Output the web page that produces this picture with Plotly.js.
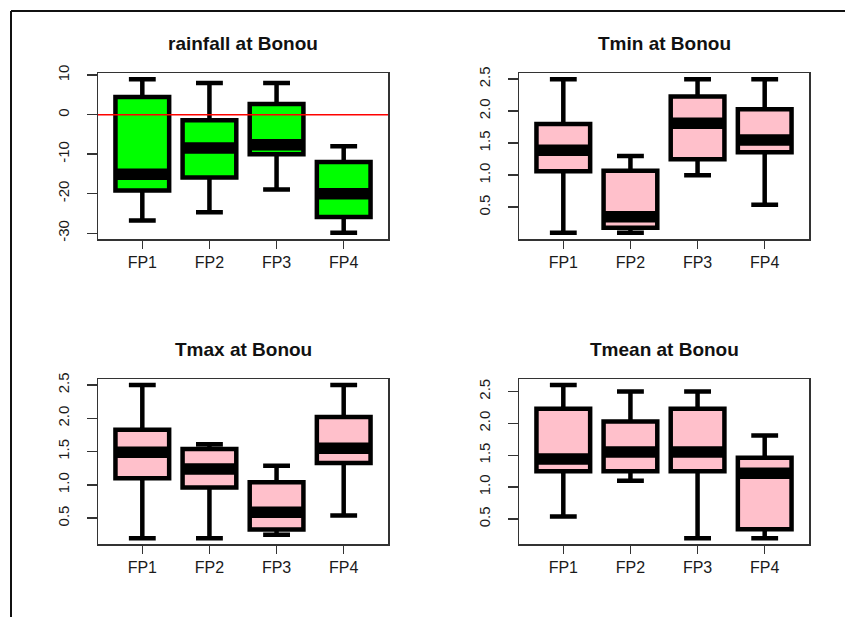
<!DOCTYPE html>
<html>
<head>
<meta charset="utf-8">
<script src="https://cdn.plot.ly/plotly-3.0.1.min.js"></script>
<style>
html,body{margin:0;padding:0;background:#fff;}
#chart{width:845px;height:617px;}
</style>
</head>
<body>
<div id="chart"></div>
<script>
// ---------- data ----------
const categories = ['FP1', 'FP2', 'FP3', 'FP4'];
const positions = [1, 2, 3, 4];
const panelTitles = ['rainfall at Bonou', 'Tmin at Bonou', 'Tmax at Bonou', 'Tmean at Bonou'];

const rainUpper  = [9, 8, 8, -8];
const rainQ3     = [4.5, -1.4, 2.7, -12];
const rainMedian = [-15.1, -8.4, -7.6, -20];
const rainQ1     = [-19.2, -15.9, -10, -25.9];
const rainLower  = [-26.8, -24.7, -18.9, -29.9];

const tminUpper  = [2.5, 1.3, 2.5, 2.5];
const tminQ3     = [1.80, 1.07, 2.23, 2.03];
const tminMedian = [1.39, 0.35, 1.81, 1.55];
const tminQ1     = [1.06, 0.18, 1.25, 1.36];
const tminLower  = [0.1, 0.1, 1.0, 0.54];

const tmaxUpper  = [2.5, 1.61, 1.29, 2.5];
const tmaxQ3     = [1.83, 1.54, 1.04, 2.02];
const tmaxMedian = [1.49, 1.24, 0.59, 1.55];
const tmaxQ1     = [1.10, 0.96, 0.33, 1.33];
const tmaxLower  = [0.2, 0.2, 0.25, 0.54];

const tmeanUpper  = [2.6, 2.5, 2.5, 1.81];
const tmeanQ3     = [2.23, 2.03, 2.23, 1.46];
const tmeanMedian = [1.44, 1.55, 1.55, 1.22];
const tmeanQ1     = [1.25, 1.25, 1.25, 0.34];
const tmeanLower  = [0.54, 1.10, 0.2, 0.2];

const rainTickVals = [-30, -20, -10, 0, 10];
const rainTickText = ['-30', '-20', '-10', '0', '10'];
const tempTickVals = [0.5, 1.0, 1.5, 2.0, 2.5];
const tempTickText = ['0.5', '1.0', '1.5', '2.0', '2.5'];

const rainReferenceLevel = 0;

// ---------- styling / layout ----------
const W = 845, H = 617;
const BOX_WIDTH = 0.8;
const GREEN = '#00ff00', PINK = '#ffc0cb';
const FONT = '"Liberation Sans", Arial, Helvetica, sans-serif';

const panels = [
  {title: panelTitles[0], lower: rainLower, q1: rainQ1, med: rainMedian, q3: rainQ3, upper: rainUpper, fill: GREEN, tv: rainTickVals, tt: rainTickText, xpx: [98, 388], ypx: [73, 239]},
  {title: panelTitles[1], lower: tminLower, q1: tminQ1, med: tminMedian, q3: tminQ3, upper: tminUpper, fill: PINK, tv: tempTickVals, tt: tempTickText, xpx: [519, 809], ypx: [73, 239]},
  {title: panelTitles[2], lower: tmaxLower, q1: tmaxQ1, med: tmaxMedian, q3: tmaxQ3, upper: tmaxUpper, fill: PINK, tv: tempTickVals, tt: tempTickText, xpx: [98, 388], ypx: [379, 544.3]},
  {title: panelTitles[3], lower: tmeanLower, q1: tmeanQ1, med: tmeanMedian, q3: tmeanQ3, upper: tmeanUpper, fill: PINK, tv: tempTickVals, tt: tempTickText, xpx: [519, 809], ypx: [379, 544.3]}
];

const data = [];
const layout = {
  width: W, height: H,
  margin: {l: 0, r: 0, t: 0, b: 0},
  paper_bgcolor: '#ffffff', plot_bgcolor: '#ffffff',
  showlegend: false,
  annotations: [],
  shapes: []
};

panels.forEach((p, i) => {
  const n = i === 0 ? '' : String(i + 1);
  const xa = 'x' + n, ya = 'y' + n;

  data.push({
    type: 'box',
    x: positions,
    q1: p.q1, median: p.med, q3: p.q3,
    lowerfence: p.lower, upperfence: p.upper,
    width: BOX_WIDTH,
    whiskerwidth: 0.5,
    boxpoints: false,
    fillcolor: p.fill,
    line: {color: '#000000', width: 4.5},
    xaxis: xa, yaxis: ya,
    hoverinfo: 'skip'
  });

  // thick median bars
  const mx = [], my = [];
  positions.forEach((pos, k) => {
    mx.push(pos - BOX_WIDTH / 2, pos + BOX_WIDTH / 2, null);
    my.push(p.med[k], p.med[k], null);
  });
  data.push({
    type: 'scatter', mode: 'lines',
    x: mx, y: my,
    line: {color: '#000000', width: 11.5},
    xaxis: xa, yaxis: ya,
    hoverinfo: 'skip'
  });

  const lo = Math.min(...p.lower), hi = Math.max(...p.upper);
  const pad = 0.04 * (hi - lo);

  const xd = [p.xpx[0] / W, p.xpx[1] / W];
  const yd = [1 - p.ypx[1] / H, 1 - p.ypx[0] / H];

  layout['xaxis' + n] = {
    domain: xd, anchor: ya,
    range: [0.5 - 0.16, positions.length + 0.5 + 0.16],
    tickvals: positions, ticktext: categories,
    showline: true, mirror: true, linecolor: '#333333', linewidth: 1.5,
    ticks: 'outside', ticklen: 8, tickwidth: 1.5, tickcolor: '#333333',
    showgrid: false, zeroline: false,
    tickfont: {family: FONT, size: 16, color: '#1a1a1a'},
    ticklabelstandoff: 0,
    fixedrange: true
  };
  layout['yaxis' + n] = {
    domain: yd, anchor: xa,
    range: [lo - pad, hi + pad],
    tickvals: p.tv, ticktext: p.tt,
    tickangle: -90,
    showline: true, mirror: true, linecolor: '#333333', linewidth: 1.5,
    ticks: 'outside', ticklen: 10, tickwidth: 1.5, tickcolor: '#333333',
    showgrid: false, zeroline: false,
    tickfont: {family: FONT, size: 15, color: '#1a1a1a'},
    ticklabelstandoff: 12,
    fixedrange: true
  };

  layout.annotations.push({
    xref: 'paper', yref: 'paper',
    x: (xd[0] + xd[1]) / 2, y: yd[1] + 30 / H,
    xanchor: 'center', yanchor: 'middle',
    text: '<b>' + p.title + '</b>', showarrow: false,
    font: {family: FONT, size: 19, color: '#111111'}
  });

  if (i === 0) {
    layout.shapes.push({
      type: 'line', xref: 'x domain', yref: 'y',
      x0: 0, x1: 1, y0: rainReferenceLevel, y1: rainReferenceLevel,
      line: {color: '#ff0000', width: 1.5}, layer: 'above'
    });
  }
});

// outer frame (top & left)
layout.shapes.push({
  type: 'line', xref: 'paper', yref: 'paper',
  x0: 11 / W, x1: 1, y0: 1 - 11 / H, y1: 1 - 11 / H,
  line: {color: '#111111', width: 2}
});
layout.shapes.push({
  type: 'line', xref: 'paper', yref: 'paper',
  x0: 11 / W, x1: 11 / W, y0: 0, y1: 1 - 11 / H,
  line: {color: '#111111', width: 2}
});

Plotly.newPlot('chart', data, layout, {displayModeBar: false, staticPlot: true});
</script>
</body>
</html>
